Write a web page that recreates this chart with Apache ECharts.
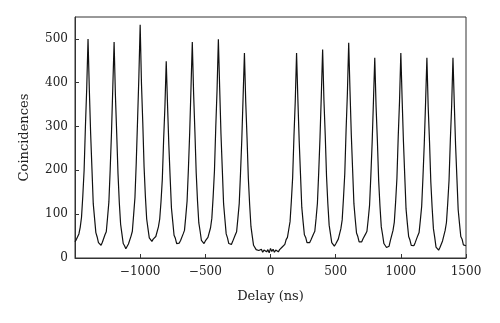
<!DOCTYPE html>
<html>
<head>
<meta charset="utf-8">
<script src="https://cdn.jsdelivr.net/npm/echarts@6/dist/echarts.min.js"></script>
<style>
  html, body { margin: 0; padding: 0; background: #fff; }
  #chart { width: 500px; height: 323px; }
</style>
</head>
<body>
<div id="chart"></div>
<script>
// Histogram bins: first bin delay and bin width (ns)
const firstDelay = -1500;
const binWidth = 10;

// Coincidence counts per 10 ns bin, one row per 200 ns window
// (each row runs from centre-100 ns to centre+90 ns)
const countsByWindow = [
  // centre -1400
  [37, 42, 41, 55, 70, 93, 142, 201, 300, 388, 500, 384, 284, 204, 124, 91, 58, 48, 35, 33],
  // centre -1200
  [29, 36, 38, 53, 60, 93, 128, 202, 286, 389, 493, 372, 284, 192, 126, 77, 55, 33, 28, 21],
  // centre -1000
  [19, 32, 35, 50, 61, 99, 138, 218, 314, 413, 532, 398, 309, 208, 141, 89, 67, 46, 45, 38],
  // centre -800
  [43, 41, 49, 53, 71, 89, 129, 180, 270, 346, 449, 349, 258, 184, 114, 83, 52, 45, 33, 37],
  // centre -600
  [34, 40, 41, 55, 63, 95, 130, 202, 286, 388, 493, 376, 288, 194, 130, 80, 61, 40, 39, 33],
  // centre -400
  [39, 37, 47, 50, 69, 91, 140, 199, 298, 384, 499, 388, 283, 204, 124, 89, 55, 46, 33, 35],
  // centre -200
  [31, 38, 40, 53, 60, 91, 124, 194, 272, 369, 468, 356, 274, 182, 122, 72, 50, 29, 25, 19],
  // centre 0 (no peak)
  [21, 17, 15, 20, 13, 18, 21, 14, 19, 12, 22, 15, 20, 13, 18, 21, 14, 19, 22, 25],
  // centre 200
  [29, 31, 42, 47, 65, 83, 130, 184, 278, 358, 468, 362, 268, 192, 116, 83, 53, 47, 35, 38],
  // centre 400
  [35, 41, 42, 55, 61, 91, 125, 196, 276, 372, 476, 360, 280, 186, 124, 75, 55, 35, 33, 27],
  // centre 600
  [32, 31, 43, 47, 67, 87, 137, 193, 292, 376, 491, 381, 281, 202, 124, 89, 57, 49, 37, 40],
  // centre 800
  [37, 44, 42, 55, 61, 89, 120, 188, 264, 359, 457, 346, 268, 176, 118, 71, 53, 33, 31, 24],
  // centre 1000
  [28, 27, 40, 44, 63, 82, 128, 182, 277, 358, 468, 362, 266, 188, 112, 79, 49, 41, 29, 32],
  // centre 1200
  [28, 35, 36, 51, 58, 87, 118, 186, 262, 356, 457, 344, 266, 174, 116, 67, 47, 25, 23, 18],
  // centre 1400
  [24, 26, 39, 43, 63, 81, 126, 178, 270, 348, 457, 354, 258, 184, 110, 79, 49, 43, 30, 32],
  // last bin, 1500
  [28]
];

// Axis tick values
const xTicks = [-1500, -1000, -500, 0, 500, 1000, 1500];
const yTicks = [0, 100, 200, 300, 400, 500];

const counts = countsByWindow.flat();
const seriesData = counts.map((c, i) => [firstDelay + i * binWidth, c]);

const serif = '"DejaVu Serif", "Liberation Serif", serif';
const ink = '#222';

const chart = echarts.init(document.getElementById('chart'), null, { renderer: 'canvas' });
chart.setOption({
  animation: false,
  backgroundColor: '#fff',
  grid: {
    left: 75, right: 34, top: 17, bottom: 65,
    show: true, borderColor: '#333', borderWidth: 1, backgroundColor: 'transparent'
  },
  xAxis: {
    type: 'value',
    min: xTicks[0], max: xTicks[xTicks.length - 1], interval: 500,
    name: 'Delay (ns)', nameLocation: 'middle', nameGap: 32,
    nameTextStyle: { fontFamily: serif, fontSize: 13, color: ink },
    axisLine: { onZero: false, lineStyle: { color: '#333', width: 1 } },
    axisTick: { inside: true, length: 4, lineStyle: { color: '#333' } },
    axisLabel: {
      showMinLabel: false, margin: 8,
      fontFamily: serif, fontSize: 12, color: ink,
      formatter: v => (v < 0 ? '\u2212' + Math.abs(v) : String(v))
    },
    splitLine: { show: false }
  },
  yAxis: {
    type: 'value',
    min: yTicks[0], max: 550, interval: 100,
    name: 'Coincidences', nameLocation: 'middle', nameGap: 44,
    nameTextStyle: { fontFamily: serif, fontSize: 13, color: ink },
    axisLine: { show: true, onZero: false, lineStyle: { color: '#333', width: 1 } },
    axisTick: { show: true, inside: true, length: 4, lineStyle: { color: '#333' } },
    axisLabel: {
      showMaxLabel: false, margin: 7,
      fontFamily: serif, fontSize: 12, color: ink,
      formatter: v => (yTicks.includes(v) ? String(v) : '')
    },
    splitLine: { show: false }
  },
  series: [{
    type: 'line',
    data: seriesData,
    showSymbol: false,
    lineStyle: { color: '#111', width: 1.2 },
    silent: true
  }]
});
</script>
</body>
</html>
